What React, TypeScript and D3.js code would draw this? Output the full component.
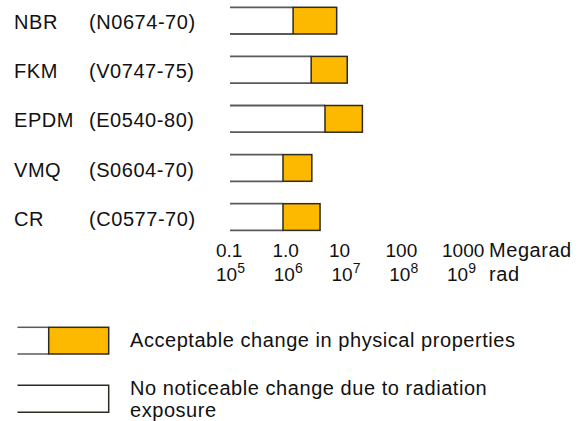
import React from "react";
import * as d3 from "d3";

const materials = ["NBR", "FKM", "EPDM", "VMQ", "CR"];
const compounds = ["(N0674-70)", "(V0747-75)", "(E0540-80)", "(S0604-70)", "(C0577-70)"];
// Megarad
const noChange = [1.55, 3.4, 6.2, 1.0, 1.0];
const acceptable = [10.3, 16.3, 31.5, 3.5, 5.0];

const megaradTicks = ["0.1", "1.0", "10", "100", "1000"];
const radExponents = ["5", "6", "7", "8", "9"];

const legendItems = [
  "Acceptable change in physical properties",
  "No noticeable change due to radiation",
  "exposure",
];

const FONT = "'Liberation Sans', Arial, Helvetica, sans-serif";
const ORANGE = "#FDB900";
const DARK = "#2b2b22";
const GRAY = "#5a5a5a";

export default function App() {
  const x = d3.scaleLog().domain([0.1, 1000]).range([230, 442]);
  const y = d3.scaleBand().domain(materials).range([7.3, 230.4]).paddingInner(0.456).paddingOuter(0);
  const bh = y.bandwidth();

  const tick1 = d3.scalePoint().domain(megaradTicks).range([216, 442]);
  const tick2 = d3.scalePoint().domain(radExponents).range([216, 447]);

  const fs = 20;
  const ls = 0.55;

  return (
    <svg
      width={583}
      height={421}
      style={{ position: "absolute", left: 0, top: 0, background: "#fff" }}
      fontFamily={FONT}
      letterSpacing={ls}
    >
      {materials.map((m, i) => {
        const y0 = y(m)!;
        const x0 = x(0.1);
        const x1 = x(noChange[i]);
        const x2 = x(acceptable[i]);
        const base = y0 + 22;
        return (
          <g key={m}>
            <text x={14} y={base} fontSize={fs} fill="#111">{m}</text>
            <text x={89} y={base} fontSize={fs} fill="#111">{compounds[i]}</text>
            <line x1={x0} x2={x1} y1={y0} y2={y0} stroke={GRAY} strokeWidth={1.8} />
            <line x1={x0} x2={x1} y1={y0 + bh} y2={y0 + bh} stroke={GRAY} strokeWidth={1.8} />
            <rect x={x1} y={y0} width={x2 - x1} height={bh} fill={ORANGE} stroke={DARK} strokeWidth={1.5} />
          </g>
        );
      })}

      {megaradTicks.map((t) => (
        <text key={t} x={tick1(t)} y={256.7} fontSize={19} letterSpacing={0} fill="#111">{t}</text>
      ))}
      <text x={489} y={256.7} fontSize={fs} fill="#111">Megarad</text>

      {radExponents.map((e) => (
        <text key={e} x={tick2(e)} y={280.7} fontSize={19} letterSpacing={0} fill="#111">
          10
          <tspan fontSize={14} dy={-8}>{e}</tspan>
        </text>
      ))}
      <text x={489} y={280.7} fontSize={fs} fill="#111">rad</text>

      {/* Legend */}
      <g>
        <line x1={17.5} x2={48.7} y1={327.3} y2={327.3} stroke={GRAY} strokeWidth={1.5} />
        <line x1={17.5} x2={48.7} y1={354} y2={354} stroke={GRAY} strokeWidth={1.5} />
        <rect x={48.7} y={327.3} width={60} height={26.7} fill={ORANGE} stroke={DARK} strokeWidth={1.5} />
        <text x={130} y={347.3} fontSize={fs} fill="#111">{legendItems[0]}</text>

        <path
          d={`M17.5,385.3 H108.7 V412.3 H17.5`}
          fill="none"
          stroke={DARK}
          strokeWidth={1.5}
        />
        <text x={130} y={395} fontSize={fs} fill="#111">{legendItems[1]}</text>
        <text x={130} y={417} fontSize={fs} fill="#111">{legendItems[2]}</text>
      </g>
    </svg>
  );
}
